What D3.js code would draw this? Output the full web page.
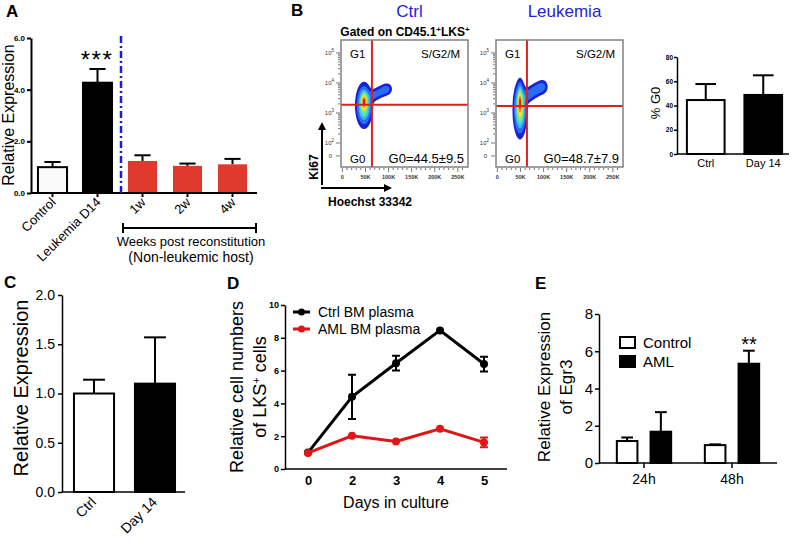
<!DOCTYPE html>
<html>
<head>
<meta charset="utf-8">
<script src="https://cdnjs.cloudflare.com/ajax/libs/d3/7.8.5/d3.min.js"></script>
<style>
  body { margin: 0; background: #fff; }
  svg { display: block; font-family: "Liberation Sans", Arial, sans-serif; }
</style>
</head>
<body>
<div id="fig"></div>
<script>
// ---- panel A: relative expression ----
const aGroups = ["Control", "Leukemia D14", "1w", "2w", "4w"];
const aValues = [1.0, 4.27, 1.24, 1.05, 1.11];
const aErrors = [0.2, 0.53, 0.22, 0.09, 0.21];
const aTicks = [0, 2, 4, 6];

// ---- panel B: flow plots ----
const flowTitles = ["Ctrl", "Leukemia"];
const flowG0 = ["G0=44.5\u00b19.5", "G0=48.7\u00b17.9"];
const hoechstTicks = [0, 50, 100, 150, 200, 250];
const hoechstLabels = ["0", "50K", "100K", "150K", "200K", "250K"];
const ki67Decades = [2, 3, 4, 5];
const gateHoechst = [64, 64];
const gateKi67 = [3.27, 3.23];
// populations: hoechst (K), ki67 (log10), spread x, spread y, weight
const ctrlPopulation = [
  { x: 47, y: 3.25, sx: 8, sy: 0.32, w: 0.8 },
  { x: 47, y: 3.42, sx: 4, sy: 0.17, w: 0.6 },
  { x: 64, y: 3.55, sx: 6, sy: 0.11, w: 0.12 },
  { x: 73, y: 3.63, sx: 6, sy: 0.11, w: 0.12 },
  { x: 82, y: 3.7, sx: 6, sy: 0.11, w: 0.12 },
  { x: 91, y: 3.76, sx: 6, sy: 0.11, w: 0.12 },
  { x: 98, y: 3.8, sx: 6, sy: 0.11, w: 0.12 }
];
const leukPopulation = [
  { x: 49, y: 3.12, sx: 6.5, sy: 0.4, w: 0.8 },
  { x: 49, y: 3.45, sx: 3, sy: 0.26, w: 0.55 },
  { x: 63, y: 3.55, sx: 6, sy: 0.13, w: 0.13 },
  { x: 72, y: 3.65, sx: 6, sy: 0.13, w: 0.13 },
  { x: 81, y: 3.74, sx: 6, sy: 0.13, w: 0.13 },
  { x: 90, y: 3.82, sx: 6, sy: 0.13, w: 0.13 },
  { x: 99, y: 3.87, sx: 6, sy: 0.13, w: 0.13 }
];

// ---- panel B inset: % G0 ----
const g0Groups = ["Ctrl", "Day 14"];
const g0Values = [44.5, 48.7];
const g0Errors = [13.2, 16.2];
const g0Ticks = [0, 20, 40, 60, 80];

// ---- panel C ----
const cGroups = ["Ctrl", "Day 14"];
const cValues = [1.0, 1.10];
const cErrors = [0.14, 0.47];
const cTicks = [0, 0.5, 1, 1.5, 2];

// ---- panel D ----
const dDays = [0, 2, 3, 4, 5];
const dCtrl = [1.0, 4.4, 6.45, 8.45, 6.4];
const dCtrlErr = [0, 1.35, 0.45, 0, 0.45];
const dAml = [0.98, 2.02, 1.68, 2.45, 1.62];
const dAmlErr = [0, 0, 0, 0, 0.3];
const dTicks = [0, 2, 4, 6, 8, 10];

// ---- panel E ----
const eTimes = ["24h", "48h"];
const eSeries = ["Control", "AML"];
const eControl = [1.18, 0.96];
const eControlErr = [0.19, 0.04];
const eAml = [1.68, 5.33];
const eAmlErr = [1.05, 0.7];
const eTicks = [0, 2, 4, 6, 8];

const FONT = '"Liberation Sans", Arial, sans-serif';
const RED = "#e0392e";
const BLUE = "#2424d8";

const svg = d3.select("#fig").append("svg")
  .attr("width", 795)
  .attr("height", 544);

svg.append("defs").append("marker")
  .attr("id", "arrow")
  .attr("viewBox", "0 0 10 10")
  .attr("refX", 5).attr("refY", 5)
  .attr("markerWidth", 4).attr("markerHeight", 4)
  .attr("orient", "auto-start-reverse")
  .append("path")
  .attr("d", "M0,0L10,5L0,10z")
  .attr("fill", "#000");

function panelLabel(t, x, y) {
  svg.append("text")
    .attr("x", x).attr("y", y)
    .attr("font-size", 17)
    .attr("font-weight", "bold")
    .text(t);
}

function styleAxis(ax, size, weight, sw) {
  ax.attr("font-family", FONT);
  ax.select("path.domain").attr("stroke", "#000").attr("stroke-width", sw);
  ax.selectAll(".tick line").attr("stroke", "#000").attr("stroke-width", sw);
  ax.selectAll(".tick text")
    .attr("font-size", size)
    .attr("font-weight", weight)
    .attr("fill", "#000");
}

// bars with upward error bars
function drawBars(g, x, y, cats, vals, errs, fills, outline) {
  const data = cats.map((c, i) => ({ c, v: vals[i], e: errs[i], i }));
  const bw = x.bandwidth();
  const cx = d => x(d.c) + bw / 2;
  const capW = bw * 0.26;

  g.append("g").selectAll("line")
    .data(data)
    .join("line")
    .attr("x1", cx).attr("x2", cx)
    .attr("y1", d => y(d.v)).attr("y2", d => y(d.v + d.e))
    .attr("stroke", "#000").attr("stroke-width", 2);

  g.append("g").selectAll("line")
    .data(data)
    .join("line")
    .attr("x1", d => cx(d) - capW).attr("x2", d => cx(d) + capW)
    .attr("y1", d => y(d.v + d.e)).attr("y2", d => y(d.v + d.e))
    .attr("stroke", "#000").attr("stroke-width", 2);

  g.append("g").selectAll("rect")
    .data(data)
    .join("rect")
    .attr("x", d => x(d.c) + 1)
    .attr("width", bw - 2)
    .attr("y", d => y(d.v))
    .attr("height", d => y(0) - y(d.v))
    .attr("fill", d => fills[d.i])
    .attr("stroke", d => outline[d.i])
    .attr("stroke-width", 2);
}

/* =========================== Panel A =========================== */
panelLabel("A", 6, 17);
{
  const g = svg.append("g");
  const x = d3.scaleBand().domain(aGroups).range([30, 255]).paddingInner(0.31).paddingOuter(0.155);
  const y = d3.scaleLinear().domain([0, 6]).range([193, 38]);

  drawBars(g, x, y, aGroups, aValues, aErrors,
    ["#fafafa", "#000", RED, RED, RED],
    ["#000", "#000", "none", "none", "none"]);

  const ya = g.append("g").attr("transform", "translate(31,0)")
    .call(d3.axisLeft(y).tickValues(aTicks).tickSize(4).tickSizeOuter(0).tickPadding(2));
  styleAxis(ya, 8, "bold", 2);

  const xa = g.append("g").attr("transform", "translate(0,193)")
    .call(d3.axisBottom(x).tickSize(4).tickSizeOuter(0).tickFormat(""));
  styleAxis(xa, 8, "normal", 2);
  xa.select("path.domain").attr("d", "M31,0H257");

  g.selectAll(".alab")
    .data(aGroups)
    .join("text")
    .attr("class", "alab")
    .attr("transform", d => `translate(${x(d) + x.bandwidth() / 2 + 4},${203}) rotate(-45)`)
    .attr("text-anchor", "end")
    .attr("font-size", 13)
    .text(d => d);

  // separator
  g.append("line")
    .attr("x1", 121).attr("x2", 121).attr("y1", 36).attr("y2", 195)
    .attr("stroke", "#1a1ae6").attr("stroke-width", 2.5)
    .attr("stroke-dasharray", "7,3,2,3");

  g.append("text")
    .attr("x", 97).attr("y", 68)
    .attr("text-anchor", "middle")
    .attr("font-size", 24).attr("letter-spacing", 1.5)
    .text("***");

  // bracket
  g.append("path")
    .attr("d", "M123,223V233M123,228H256M256,223V233")
    .attr("stroke", "#000").attr("stroke-width", 2).attr("fill", "none");
  g.append("text").attr("x", 191).attr("y", 246).attr("text-anchor", "middle")
    .attr("font-size", 13).text("Weeks post reconstitution");
  g.append("text").attr("x", 191).attr("y", 262).attr("text-anchor", "middle")
    .attr("font-size", 14).text("(Non-leukemic host)");

  g.append("text")
    .attr("transform", "translate(14,115) rotate(-90)")
    .attr("text-anchor", "middle")
    .attr("font-size", 16)
    .text("Relative Expression");
}

/* =========================== Panel B =========================== */
panelLabel("B", 291, 16);

const flowSize = 127;
const flowLefts = [341, 496];
const flowTop = 40;
const densityFracs = [0.03, 0.09, 0.2, 0.32, 0.45, 0.6, 0.76, 0.9];
const densityColors = ["#1a22d8", "#2c6cf2", "#38b8f0", "#4de0c8", "#9be65a", "#f0e830", "#f08a20", "#e01818"];

function densityGrid(pop, xs, ys, w, h) {
  const vals = new Float64Array(w * h);
  for (let j = 0; j < h; j++) {
    for (let i = 0; i < w; i++) {
      const hx = xs.invert(i + 0.5), ky = ys.invert(j + 0.5);
      let s = 0;
      for (const p of pop) {
        const dx = (hx - p.x) / p.sx, dy = (ky - p.y) / p.sy;
        s += p.w * Math.exp(-0.5 * (dx * dx + dy * dy));
      }
      vals[i + j * w] = s;
    }
  }
  return vals;
}

function drawFlow(k, pop) {
  const left = flowLefts[k];
  const g = svg.append("g").attr("transform", `translate(${left},${flowTop})`);
  const xs = d3.scaleLinear().domain([-3, 272]).range([0, flowSize]);
  const ys = d3.scaleLinear().domain([1.2, 5.43]).range([flowSize, 0]);

  const vals = densityGrid(pop, xs, ys, flowSize, flowSize);
  const max = d3.max(vals);
  const contours = d3.contours()
    .size([flowSize, flowSize])
    .thresholds(densityFracs.map(f => f * max))(vals);

  g.append("g").selectAll("path")
    .data(contours)
    .join("path")
    .attr("d", d3.geoPath())
    .attr("fill", (d, i) => densityColors[i]);

  // gates
  g.append("line")
    .attr("x1", xs(gateHoechst[k])).attr("x2", xs(gateHoechst[k]))
    .attr("y1", 0).attr("y2", flowSize)
    .attr("stroke", "#e0201a").attr("stroke-width", 2);
  g.append("line")
    .attr("x1", 0).attr("x2", flowSize)
    .attr("y1", ys(gateKi67[k])).attr("y2", ys(gateKi67[k]))
    .attr("stroke", "#e0201a").attr("stroke-width", 2);

  g.append("rect")
    .attr("width", flowSize).attr("height", flowSize)
    .attr("fill", "none").attr("stroke", "#808080").attr("stroke-width", 1.5);

  // bottom axis with minor ticks
  const minorX = d3.range(0, 261, 10);
  g.append("g").selectAll("line")
    .data(minorX)
    .join("line")
    .attr("x1", d => xs(d)).attr("x2", d => xs(d))
    .attr("y1", flowSize + 1)
    .attr("y2", d => flowSize + (d % 50 === 0 ? 5 : 3))
    .attr("stroke", "#555").attr("stroke-width", 0.8);
  g.append("g").selectAll("text")
    .data(hoechstTicks)
    .join("text")
    .attr("x", d => xs(d)).attr("y", flowSize + 12)
    .attr("text-anchor", "middle")
    .attr("font-size", 5.5).attr("font-weight", "bold").attr("fill", "#333")
    .text((d, i) => hoechstLabels[i]);

  // left axis, log decades
  const minorY = [];
  ki67Decades.forEach(dec => {
    for (let m = 1; m < 10; m++) {
      const v = dec + Math.log10(m);
      if (v <= 5.43 && (dec < 5 || m === 1)) minorY.push({ v, major: m === 1 });
    }
  });
  g.append("g").selectAll("line")
    .data(minorY)
    .join("line")
    .attr("x1", -1).attr("x2", d => d.major ? -5 : -3)
    .attr("y1", d => ys(d.v)).attr("y2", d => ys(d.v))
    .attr("stroke", "#555").attr("stroke-width", 0.8);
  const yl = g.append("g").selectAll("text")
    .data(ki67Decades)
    .join("text")
    .attr("x", -7).attr("y", d => ys(d) + 2)
    .attr("text-anchor", "end")
    .attr("font-size", 6).attr("fill", "#333");
  yl.append("tspan").text("10");
  yl.append("tspan").attr("dy", -3).attr("font-size", 4.5).text(d => d);
  g.append("text").attr("x", -9).attr("y", ys(1.57) + 2)
    .attr("text-anchor", "end").attr("font-size", 6).attr("fill", "#333").text("0");
  g.append("line").attr("x1", -1).attr("x2", -5)
    .attr("y1", ys(1.57)).attr("y2", ys(1.57)).attr("stroke", "#555").attr("stroke-width", 0.8);

  // quadrant labels
  g.append("text").attr("x", 9).attr("y", 18).attr("font-size", 11.5).text("G1");
  g.append("text").attr("x", flowSize - 8).attr("y", 18).attr("text-anchor", "end")
    .attr("font-size", 11.5).text("S/G2/M");
  g.append("text").attr("x", 9).attr("y", 123).attr("font-size", 11.5).text("G0");
  g.append("text").attr("x", flowSize - 4).attr("y", 123).attr("text-anchor", "end")
    .attr("font-size", 13).text(flowG0[k]);

  // title
  svg.append("text")
    .attr("x", left + flowSize / 2 + 5).attr("y", 17)
    .attr("text-anchor", "middle")
    .attr("font-size", 17).attr("fill", BLUE)
    .text(flowTitles[k]);
}

drawFlow(0, ctrlPopulation);
drawFlow(1, leukPopulation);

{
  const t = svg.append("text").attr("x", 405).attr("y", 36)
    .attr("text-anchor", "middle").attr("font-size", 12).attr("font-weight", "bold");
  t.append("tspan").text("Gated on CD45.1");
  t.append("tspan").attr("dy", -4).attr("font-size", 8).text("+");
  t.append("tspan").attr("dy", 4).text("LKS");
  t.append("tspan").attr("dy", -4).attr("font-size", 8).text("+");

  svg.append("line").attr("x1", 322).attr("x2", 322).attr("y1", 185).attr("y2", 126)
    .attr("stroke", "#000").attr("stroke-width", 2).attr("marker-end", "url(#arrow)");
  svg.append("line").attr("x1", 321).attr("x2", 388).attr("y1", 188).attr("y2", 188)
    .attr("stroke", "#000").attr("stroke-width", 2).attr("marker-end", "url(#arrow)");
  svg.append("text").attr("transform", "translate(318,167) rotate(-90)")
    .attr("text-anchor", "middle").attr("font-size", 12).attr("font-weight", "bold").text("Ki67");
  svg.append("text").attr("x", 328).attr("y", 206)
    .attr("font-size", 12).attr("font-weight", "bold").text("Hoechst 33342");
}

// inset % G0
{
  const g = svg.append("g");
  const x = d3.scaleBand().domain(g0Groups).range([677, 792]).paddingInner(0.31).paddingOuter(0.155);
  const y = d3.scaleLinear().domain([0, 80]).range([154, 57]);
  drawBars(g, x, y, g0Groups, g0Values, g0Errors, ["#fff", "#000"], ["#000", "#000"]);

  const ya = g.append("g").attr("transform", "translate(677,0)")
    .call(d3.axisLeft(y).tickValues(g0Ticks).tickSize(3).tickSizeOuter(0).tickPadding(1));
  styleAxis(ya, 6.5, "bold", 1.5);
  const xa = g.append("g").attr("transform", "translate(0,154)")
    .call(d3.axisBottom(x).tickSize(0).tickPadding(5));
  styleAxis(xa, 11, "normal", 1.5);
  xa.select("path.domain").attr("d", "M677,0H789");

  g.append("text").attr("transform", "translate(660,103) rotate(-90)")
    .attr("text-anchor", "middle").attr("font-size", 13).text("% G0");
}

/* =========================== Panel C =========================== */
panelLabel("C", 4, 288);
{
  const g = svg.append("g");
  const x = d3.scaleBand().domain(cGroups).range([62, 187]).paddingInner(0.31).paddingOuter(0.18);
  const y = d3.scaleLinear().domain([0, 2]).range([492, 295]);
  drawBars(g, x, y, cGroups, cValues, cErrors, ["#fff", "#000"], ["#000", "#000"]);

  const ya = g.append("g").attr("transform", "translate(62,0)")
    .call(d3.axisLeft(y).tickValues(cTicks).tickFormat(d3.format(".1f")).tickSize(4).tickSizeOuter(0).tickPadding(3));
  styleAxis(ya, 14, "normal", 1.5);
  const xa = g.append("g").attr("transform", "translate(0,492)")
    .call(d3.axisBottom(x).tickSize(0).tickFormat(""));
  styleAxis(xa, 10, "normal", 1.5);
  xa.select("path.domain").attr("d", "M62,0H185");

  g.selectAll(".clab")
    .data(cGroups)
    .join("text")
    .attr("transform", d => `translate(${x(d) + x.bandwidth() / 2 + 3},503) rotate(-45)`)
    .attr("text-anchor", "end")
    .attr("font-size", 14)
    .text(d => d);

  g.append("text").attr("transform", "translate(28,388) rotate(-90)")
    .attr("text-anchor", "middle").attr("font-size", 20).text("Relative Expression");
}

/* =========================== Panel D =========================== */
panelLabel("D", 227, 289);
{
  const g = svg.append("g");
  const x = d3.scalePoint().domain(dDays).range([308, 484]);
  const y = d3.scaleLinear().domain([0, 10]).range([469, 305]);

  const ya = g.append("g").attr("transform", "translate(285,0)")
    .call(d3.axisLeft(y).tickValues(dTicks).tickSize(4).tickSizeOuter(0).tickPadding(2));
  styleAxis(ya, 9, "bold", 1.5);
  const xa = g.append("g").attr("transform", "translate(0,469)")
    .call(d3.axisBottom(x).tickSize(0).tickPadding(7));
  styleAxis(xa, 13, "bold", 1.5);
  xa.select("path.domain").attr("d", "M285,0H507");

  const series = [
    { vals: dCtrl, errs: dCtrlErr, color: "#000" },
    { vals: dAml, errs: dAmlErr, color: "#e01515" }
  ];
  series.forEach(s => {
    const pts = dDays.map((d, i) => ({ d, v: s.vals[i], e: s.errs[i] }));
    g.append("path")
      .datum(pts)
      .attr("d", d3.line().x(p => x(p.d)).y(p => y(p.v)))
      .attr("fill", "none").attr("stroke", s.color).attr("stroke-width", 3);
    const eb = pts.filter(p => p.e > 0);
    g.append("g").selectAll("path")
      .data(eb)
      .join("path")
      .attr("d", p => `M${x(p.d) - 4},${y(p.v + p.e)}H${x(p.d) + 4}M${x(p.d)},${y(p.v + p.e)}V${y(p.v - p.e)}M${x(p.d) - 4},${y(p.v - p.e)}H${x(p.d) + 4}`)
      .attr("stroke", s.color).attr("stroke-width", 2).attr("fill", "none");
    g.append("g").selectAll("circle")
      .data(pts)
      .join("circle")
      .attr("cx", p => x(p.d)).attr("cy", p => y(p.v)).attr("r", 4)
      .attr("fill", s.color);
  });

  // legend
  [["Ctrl BM plasma", "#000", 312], ["AML BM plasma", "#e01515", 329]].forEach(([t, c, ly]) => {
    g.append("line").attr("x1", 293).attr("x2", 310).attr("y1", ly).attr("y2", ly)
      .attr("stroke", c).attr("stroke-width", 3);
    g.append("circle").attr("cx", 301.5).attr("cy", ly).attr("r", 3.5).attr("fill", c);
    g.append("text").attr("x", 318).attr("y", ly + 5).attr("font-size", 14).text(t);
  });

  g.append("text").attr("x", 396).attr("y", 508).attr("text-anchor", "middle")
    .attr("font-size", 16).text("Days in culture");

  g.append("text").attr("transform", "translate(243,387) rotate(-90)")
    .attr("text-anchor", "middle").attr("font-size", 18).text("Relative cell numbers");
  const t2 = g.append("text").attr("transform", "translate(266,387) rotate(-90)")
    .attr("text-anchor", "middle").attr("font-size", 18);
  t2.append("tspan").text("of LKS");
  t2.append("tspan").attr("dy", -6).attr("font-size", 11).text("+");
  t2.append("tspan").attr("dy", 6).text(" cells");
}

/* =========================== Panel E =========================== */
panelLabel("E", 535, 289);
{
  const g = svg.append("g");
  const x0 = d3.scaleBand().domain(eTimes).range([600, 776]).paddingInner(0.36).paddingOuter(0.18);
  const x1 = d3.scaleBand().domain(eSeries).range([0, x0.bandwidth()]).paddingInner(0.33);
  const y = d3.scaleLinear().domain([0, 8]).range([463, 314]);

  const fills = { Control: "#fff", AML: "#000" };
  const vals = { Control: eControl, AML: eAml };
  const errs = { Control: eControlErr, AML: eAmlErr };

  eSeries.forEach(s => {
    // position of this series' bar inside each time group
    const bw = x1.bandwidth();
    const scale = Object.assign(t => x0(t) + x1(s), { bandwidth: () => bw });
    drawBars(g.append("g"), scale, y, eTimes, vals[s], errs[s],
      eTimes.map(() => fills[s]), eTimes.map(() => "#000"));
  });

  const ya = g.append("g").attr("transform", "translate(599,0)")
    .call(d3.axisLeft(y).tickValues(eTicks).tickSize(4).tickSizeOuter(0).tickPadding(2));
  styleAxis(ya, 15, "normal", 1.5);
  const xa = g.append("g").attr("transform", "translate(0,463)")
    .call(d3.axisBottom(x0).tickSize(5).tickPadding(6));
  styleAxis(xa, 14, "normal", 1.5);
  xa.select("path.domain").attr("d", "M599,0H777");

  g.append("text").attr("x", 749).attr("y", 351).attr("text-anchor", "middle")
    .attr("font-size", 20).text("**");

  // legend
  [["Control", "#fff", 337], ["AML", "#000", 356]].forEach(([t, c, ly]) => {
    g.append("rect").attr("x", 620).attr("y", ly).attr("width", 15).attr("height", 11)
      .attr("fill", c).attr("stroke", "#000").attr("stroke-width", 2);
    g.append("text").attr("x", 643).attr("y", ly + 11).attr("font-size", 15).text(t);
  });

  g.append("text").attr("transform", "translate(550,387) rotate(-90)")
    .attr("text-anchor", "middle").attr("font-size", 17).text("Relative Expression");
  g.append("text").attr("transform", "translate(572,387) rotate(-90)")
    .attr("text-anchor", "middle").attr("font-size", 17).text("of Egr3");
}
</script>
</body>
</html>
